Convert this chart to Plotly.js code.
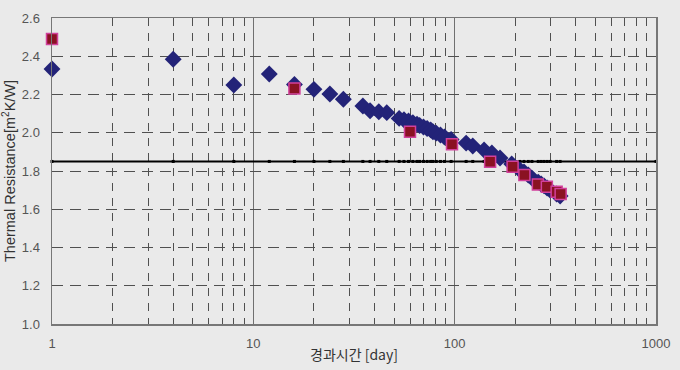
<!DOCTYPE html>
<html>
<head>
<meta charset="utf-8">
<script src="https://cdn.plot.ly/plotly-3.0.1.min.js"></script>
<style>html,body{margin:0;padding:0;background:#eaeaea;}#chart{width:680px;height:370px;}</style>
</head>
<body>
<div id="chart"></div>
<script>
// Diamond series (elapsed days, thermal resistance)
const diamondDays = [1,4,8,12,16,20,24,28,35,38,42,46,53,56,59,62,65,67,70,73,76,78,81,85,89,96,114,123,140,153,168,192,211,221,232,242,260,269,278,288,298,321,334];
const diamondR = [2.333,2.384,2.250,2.307,2.252,2.227,2.203,2.175,2.140,2.115,2.110,2.105,2.075,2.068,2.062,2.052,2.045,2.038,2.030,2.022,2.015,2.005,1.998,1.988,1.978,1.965,1.946,1.931,1.910,1.894,1.868,1.837,1.805,1.795,1.779,1.763,1.742,1.732,1.722,1.711,1.701,1.680,1.669];
// Square series
const squareDays = [1,16,60,97,150,194,222,259,287,321,336];
const squareR = [2.490,2.232,2.005,1.940,1.849,1.822,1.779,1.730,1.718,1.692,1.680];
// Reference level line
const refLevel = 1.85;
const refDays = diamondDays.concat([1000]);
// Axis ticks
const xTickVals = [1,10,100,1000];
const xTickText = ['1','10','100','1000'];
const xMinorVals = [2,3,4,5,6,7,8,9,20,30,40,50,60,70,80,90,200,300,400,500,600,700,800,900];
const yTickVals = [1.0,1.2,1.4,1.6,1.8,2.0,2.2,2.4,2.6];

const bg = '#eaeaea';
const traces = [
  {x: refDays, y: refDays.map(() => refLevel), mode: 'lines+markers', type: 'scatter', cliponaxis: false,
   line: {color: '#000', width: 2}, marker: {symbol: 'square', size: 3, color: '#000'}, hoverinfo: 'skip'},
  {x: diamondDays, y: diamondR, mode: 'markers', type: 'scatter', cliponaxis: false,
   marker: {symbol: 'diamond', size: 13, color: '#232378', line: {width: 0}}},
  {x: squareDays, y: squareR, mode: 'markers', type: 'scatter', cliponaxis: false,
   marker: {symbol: 'square', size: 11, color: '#8a1222', line: {color: '#d2409c', width: 1.5}}}
];

const layout = {
  width: 680, height: 370,
  paper_bgcolor: bg, plot_bgcolor: bg,
  margin: {l: 52, r: 24, t: 18, b: 46},
  showlegend: false,
  font: {family: 'Liberation Sans, Arial, sans-serif', color: '#555'},
  xaxis: {
    type: 'log', range: [0, 3],
    tickmode: 'array', tickvals: xTickVals, ticktext: xTickText,
    ticks: 'outside', ticklen: 7, tickcolor: bg,
    tickfont: {size: 13, color: '#555'},
    showgrid: true, gridcolor: '#707070', gridwidth: 1.5,
    minor: {tickmode: 'array', tickvals: xMinorVals, showgrid: true, gridcolor: '#505050', griddash: '8px,7px', gridwidth: 1, ticks: ''},
    showline: true, linecolor: '#777', linewidth: 1.5, mirror: true,
    zeroline: false,
    title: {text: '경과시간 [day]', font: {family: 'Noto Sans CJK KR, sans-serif', size: 14, color: '#333'}, standoff: 0}
  },
  yaxis: {
    range: [1.0, 2.6],
    tickmode: 'array', tickvals: yTickVals, tickformat: '.1f',
    ticks: 'outside', ticklen: 8, tickcolor: bg,
    tickfont: {size: 13, color: '#555'},
    showgrid: true, gridcolor: '#505050', griddash: '11px,7px', gridwidth: 1,
    showline: true, linecolor: '#777', linewidth: 1.5, mirror: true,
    zeroline: false,
    title: {text: 'Thermal Resistance[m<sup>2</sup>K/W]', font: {family: 'Liberation Sans, Arial, sans-serif', size: 14.5, color: '#333'}, standoff: 3}
  }
};

Plotly.newPlot('chart', traces, layout, {displayModeBar: false, staticPlot: true});
</script>
</body>
</html>
